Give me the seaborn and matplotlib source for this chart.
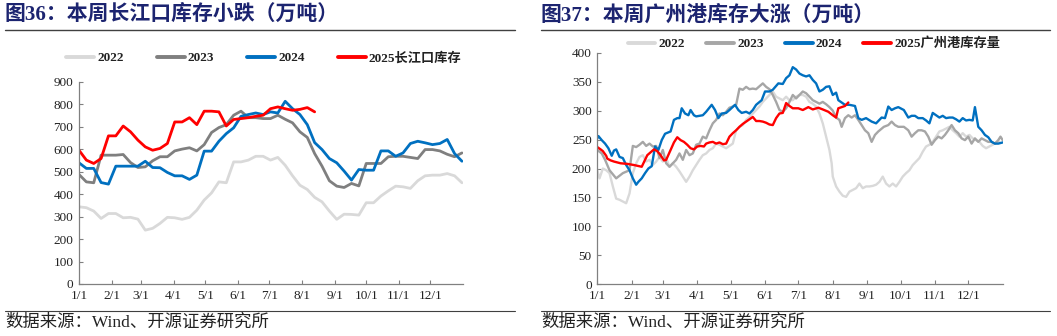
import numpy as np
import pandas as pd
import matplotlib
matplotlib.use("Agg")
import matplotlib.pyplot as plt
from matplotlib.lines import Line2D
import seaborn as sns

# ---------------- data: left chart (weekly, 长江口库存) ----------------
cj_2022 = [344,340,325,292,314,314,295,297,289,240,248,270,297,295,288,297,329,374,406,455,
           451,544,544,552,569,569,552,564,529,482,440,421,386,366,325,288,311,310,307,362,
           362,392,415,436,433,426,460,482,485,485,492,482,451]
cj_2023 = [488,455,451,574,574,574,577,541,519,522,549,567,567,593,601,607,593,621,675,697,
           710,752,770,741,741,737,737,752,734,718,678,653,581,525,460,436,430,448,437,537,
           537,537,567,569,569,564,559,599,599,593,578,567,584]
cj_2024 = [540,515,515,452,445,525,525,525,525,547,519,518,497,482,482,466,485,592,592,636,
           670,696,747,755,762,755,767,762,814,781,755,710,630,599,559,540,503,463,510,507,
           507,593,593,569,584,626,636,629,621,626,644,581,547]
cj_2025 = [596,552,537,559,660,660,704,678,641,611,596,604,626,722,722,741,710,770,770,767,
           704,733,737,741,747,752,781,789,781,774,778,786,767]

# ---------------- data: right chart (广州港库存), day of year -> value ----------------
gz_2022_day = [0,2,5,8,11,14,17,20,23,26,29,32,35,38,41,44,47,50,53,56,59,62,65,68,71,74,77,80,83,86,
               89,92,95,98,101,104,107,110,113,116,119,122,125,128,131,134,137,140,143,146,149,152,155,
               158,161,164,167,170,173,176,179,182,185,188,191,194,197,200,203,206,209,211,212,215,218,
               221,224,227,230,233,236,239,242,245,248,251,254,257,260,263,266,269,272,275,278,281,284,
               287,290,293,296,299,302,305,308,311,314,317,320,323,326,329,332,335,338,341,344,347,350,
               353,356,359,362]
gz_2022_val = [197,183,200,197,192,169,148,146,143,140,157,192,209,220,223,212,215,206,212,220,212,218,
               203,209,203,195,186,177,186,197,206,215,223,226,232,235,243,241,238,235,239,243,266,272,
               275,284,289,295,301,307,315,321,327,333,324,321,318,324,318,318,324,327,327,324,315,312,
               307,295,278,255,232,209,186,169,160,153,151,160,163,166,174,166,169,169,170,172,177,186,
               174,169,174,169,177,186,192,197,206,212,218,229,238,241,246,255,264,266,269,272,266,261,
               255,261,255,258,252,249,246,239,235,238,241,245,246]

gz_2023_day = [0,4,7,11,17,23,29,32,35,38,41,44,47,50,53,56,59,62,65,68,71,74,77,80,83,86,89,92,95,98,
               101,104,107,110,113,116,119,122,125,128,131,134,137,140,143,146,149,152,155,158,161,164,
               167,170,173,176,179,182,185,188,191,194,197,200,203,206,209,212,215,218,220,223,226,229,
               232,235,238,241,244,247,250,253,258,262,265,268,271,276,280,283,286,289,292,295,298,301,
               304,307,310,313,316,319,322,325,328,331,334,337,340,343,346,349,352,355,358,361,363,365]
gz_2023_val = [232,226,215,197,183,192,197,239,237,241,246,239,243,238,239,218,232,209,203,209,215,226,
               215,232,223,226,241,243,255,252,266,278,284,295,292,298,305,307,310,338,336,341,337,338,
               337,342,347,341,337,327,315,301,298,304,315,327,321,327,333,330,324,318,315,312,315,311,
               306,300,288,284,272,287,292,288,292,284,275,266,261,246,258,264,272,275,281,275,272,272,
               266,255,261,266,266,264,255,241,249,255,252,258,266,275,266,261,252,249,255,243,252,246,
               252,249,246,246,243,249,255,249]

gz_2024_day = [0,1,4,7,10,13,15,17,20,23,26,29,32,35,37,40,43,46,49,52,55,58,61,66,69,72,74,76,79,82,
               84,87,89,92,95,98,103,106,109,112,116,119,124,127,130,134,137,140,143,148,151,155,158,163,
               167,170,173,176,179,182,185,188,191,194,197,200,203,206,209,212,215,217,220,223,227,232,
               235,238,242,247,251,256,259,262,265,268,271,276,280,283,286,289,293,296,299,302,305,308,
               311,314,317,320,323,326,329,332,335,338,340,343,346,349,352,355,358,361,365]
gz_2024_val = [252,256,249,243,235,222,231,233,220,218,206,197,183,172,177,183,192,200,204,238,232,249,
               260,264,284,287,287,304,295,292,301,292,290,291,292,298,310,301,287,295,296,301,310,301,
               296,298,295,301,310,318,333,333,336,347,346,356,361,375,371,364,361,359,361,353,347,333,
               336,341,342,327,331,318,314,310,310,308,287,284,287,281,278,288,287,307,301,304,306,301,
               288,291,291,287,287,283,278,296,292,288,291,287,288,288,285,281,287,283,284,283,306,272,
               266,258,254,246,243,243,245]

gz_2025_day = [0,3,5,8,9,12,15,21,27,33,40,43,45,48,51,54,57,60,62,66,69,72,75,78,81,84,87,90,93,96,
               98,101,104,107,110,113,116,119,122,125,128,131,134,137,140,143,146,149,152,155,158,161,
               164,167,170,173,176,181,185,190,194,199,203,208,212,215,217,220,223,226]
gz_2025_val = [237,233,230,222,217,214,212,209,208,206,203,215,223,228,233,230,223,214,215,232,245,254,
               249,246,241,235,233,238,239,238,243,245,246,243,245,242,243,255,261,266,272,277,281,285,
               289,282,282,281,279,276,275,287,295,296,313,308,304,304,301,306,302,305,302,298,292,288,
               304,306,308,314]

month_days = [0, 31, 59, 90, 120, 151, 181, 212, 243, 273, 304, 334]
month_labels = ["1/1", "2/1", "3/1", "4/1", "5/1", "6/1", "7/1", "8/1", "9/1", "10/1", "11/1", "12/1"]

left_labels = ["2022", "2023", "2024", "2025长江口库存"]
right_labels = ["2022", "2023", "2024", "2025广州港库存量"]

# ---------------- style ----------------
sns.set_theme(style="white")
plt.rcParams["font.family"] = ["Liberation Serif", "Noto Sans CJK SC", "DejaVu Sans"]
plt.rcParams["axes.unicode_minus"] = False

W, H = 1057, 336
fig = plt.figure(figsize=(W / 100, H / 100), dpi=100)

def fx(px):
    return px / W

def fy(py):
    return 1 - py / H

ax1 = fig.add_axes([fx(79), fy(284), fx(463) - fx(79), fy(82) - fy(284)])
ax2 = fig.add_axes([fx(597.3), fy(284.3), fx(1002.7) - fx(597.3), fy(52.7) - fy(284.3)])

# left panel
weeks = np.arange(len(cj_2022)) * 7
left_series = [
    (weeks[:len(cj_2022)], cj_2022, "#d9d9d9"),
    (weeks[:len(cj_2023)], cj_2023, "#7f7f7f"),
    (weeks[:len(cj_2024)], cj_2024, "#0070c0"),
    (weeks[:len(cj_2025)], cj_2025, "#ff0000"),
]
for (x, y, c), lab in zip(left_series, left_labels):
    df = pd.DataFrame({"day": x, "value": y})
    sns.lineplot(data=df, x="day", y="value", color=c, linewidth=2.0, ax=ax1, label=lab,
                 sort=False)

right_series = [
    (gz_2022_day, gz_2022_val, "#d9d9d9"),
    (gz_2023_day, gz_2023_val, "#a6a6a6"),
    (gz_2024_day, gz_2024_val, "#0070c0"),
    (gz_2025_day, gz_2025_val, "#ff0000"),
]
for (x, y, c), lab in zip(right_series, right_labels):
    df = pd.DataFrame({"day": x, "value": y})
    sns.lineplot(data=df, x="day", y="value", color=c, linewidth=1.7, ax=ax2, label=lab,
                 sort=False)

tick_font = dict(fontsize=9.5)
for ax, ymax, ystep in [(ax1, 900, 100), (ax2, 400, 50)]:
    ax.set_xlim(0, 365)
    ax.set_ylim(0, ymax)
    ax.set_yticks(np.arange(0, ymax + 1, ystep))
    ax.set_xticks(month_days)
    ax.set_xticklabels(month_labels, **tick_font)
    ax.set_yticklabels([str(v) for v in np.arange(0, ymax + 1, ystep)], **tick_font)
    ax.set_xlabel("")
    ax.set_ylabel("")
    for s in ["top", "right"]:
        ax.spines[s].set_visible(False)
    for s in ["left", "bottom"]:
        ax.spines[s].set_color("#808080")
        ax.spines[s].set_linewidth(0.9)
    ax.tick_params(axis="both", direction="in", length=3, width=0.8, color="#808080",
                   colors="#222222", pad=4, bottom=True, left=True)
    ax.set_facecolor("white")
    ax.grid(False)

leg_kw = dict(ncol=4, frameon=False, handlelength=2.1, handletextpad=0.25,
              prop={"family": ["Liberation Serif", "Noto Sans CJK SC"], "weight": "bold", "size": 9.5},
              bbox_transform=fig.transFigure, loc="center", borderaxespad=0)
ax1.legend(bbox_to_anchor=(fx(264), fy(58)), columnspacing=2.5, **leg_kw)
ax2.legend(bbox_to_anchor=(fx(814), fy(44)), columnspacing=1.6, **leg_kw)
for leg in [ax1.get_legend(), ax2.get_legend()]:
    for t in leg.get_texts():
        t.set_color("#222222")
    for h in leg.get_lines():
        h.set_linewidth(2.8)

# titles
title_color = "#1c2470"
title_kw = dict(fontsize=15, fontweight="bold", color=title_color, va="center", ha="left",
                family=["Liberation Serif", "Noto Sans CJK SC"])
fig.text(fx(5), fy(15), "图36：本周长江口库存小跌（万吨）", **title_kw)
fig.text(fx(541), fy(15), "图37：本周广州港库存大涨（万吨）", **title_kw)

# separator lines
for x0, x1 in [(5, 515), (541, 1050)]:
    fig.add_artist(Line2D([fx(x0), fx(x1)], [fy(30), fy(30)], color="#404040", lw=1.0,
                          transform=fig.transFigure))
    fig.add_artist(Line2D([fx(x0), fx(x1)], [fy(311), fy(311)], color="#404040", lw=0.8,
                          transform=fig.transFigure))

# footnotes
foot_kw = dict(fontsize=12.5, color="#222222", va="center", ha="left",
               family=["Liberation Serif", "Noto Sans CJK SC"])
fig.text(fx(5), fy(323), "数据来源：Wind、开源证券研究所", **foot_kw)
fig.text(fx(541), fy(323), "数据来源：Wind、开源证券研究所", **foot_kw)

fig.savefig("out.png", dpi=100, facecolor="white")
